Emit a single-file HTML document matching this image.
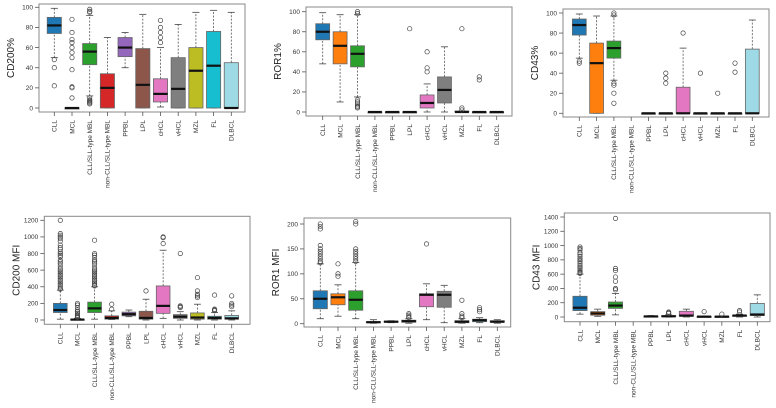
<!DOCTYPE html>
<html><head><meta charset="utf-8">
<style>
body{margin:0;background:#fff;width:776px;height:403px;overflow:hidden}
svg{font-family:"Liberation Sans",sans-serif}
</style></head>
<body>
<svg id="chart" width="776" height="403" viewBox="0 0 776 403" xmlns="http://www.w3.org/2000/svg"></svg>
<script>
const categories = ["CLL","MCL","CLL/SLL-type MBL","non-CLL/SLL-type MBL","PPBL","LPL","cHCL","vHCL","MZL","FL","DLBCL"];
const colors = ["#1f77b4","#ff7f0e","#2ca02c","#d62728","#9467bd","#8c564b","#e377c2","#7f7f7f","#bcbd22","#17becf","#9edae5"];

// stats: [lowWhisker, q1, median, q3, highWhisker]
const cd200PctStats = [[50,74,82,90,99],[0,0,0,0,0],[12,43,56,64,92],[0,0,20,34,70],[40,51,60,70,75],[0,0,23,59,93],[1,6,14,29,60],[0,0,19,50,83],[0,0,37,60,95],[0,0,42,76,97],[0,0,0,45,95]];
const cd200PctOut = [[48,40,22],[88,75,68,65,60,55,50,38,21,20,10],[98,96,95,10,8,7,6,5,4],[],[],[],[87,80,75,70,65],[],[],[],[]];
const ror1PctStats = [[48,72,80,88,99],[10,48,66,80,97],[15,45,58,66,97],[0,0,0,0,0],[0,0,0,0,0],[0,0,0,0,0],[0,4,9,17,28],[0,9,22,35,65],[0,0,0,1,1],[0,0,0,0,0],[0,0,0,0,0]];
const ror1PctOut = [[],[],[100,98,12,10,8,6,5,4],[],[],[83],[60,44,40],[],[83,4,2],[35,32],[]];
const cd43PctStats = [[55,78,88,94,99],[0,0,50,70,97],[33,55,65,72,97],null,[0,0,0,0,0],[0,0,0,0,0],[0,0,0,26,65],[0,0,0,0,0],[0,0,0,0,0],[0,0,0,0,0],[0,0,0,64,93]];
const cd43PctOut = [[52,50],[],[100,98,30,28,20,10],[],[],[40,35,30],[80],[40],[20],[50,41],[]];
const cd200MfiStats = [[10,90,120,200,360],[0,2,5,10,20],[10,90,140,215,400],[5,10,25,50,110],[40,50,70,95,120],[0,10,25,105,250],[20,80,170,410,840],[0,20,40,65,100],[0,10,30,85,190],[0,10,25,45,90],[0,10,20,55,110]];
const cd200MfiOut = [[1200,1040,1020,1000,980,950,900,870,850,820,800,780,760,720,700,680,650,620,600,580,560,540,520,500,480,460,440,420,400,380,370],[200,180,150,120,100,80,60,50,40,30],[960,800,780,750,720,700,680,650,620,600,580,560,540,520,500,480,460,440,420,410],[190,130],[],[350],[1000,990,920],[800,170,160,150],[510,350,310,290,270],[300,130,120,110],[290,200,180,160]];
const ror1MfiStats = [[10,30,50,66,120],[15,38,53,60,78],[10,27,48,66,123],[1,2,3,4,8],[2,3,4,5,6],[1,3,5,7,10],[8,34,58,60,80],[2,33,58,65,77],[1,2,4,6,10],[2,4,7,9,12],[1,3,4,6,8]];
const ror1MfiOut = [[200,195,190,157,150,145,140,135,130,125,122],[120,100,95],[205,200,150,145,140,135,130,125],[],[],[20,17,14,12],[160],[],[47,20,15,12],[32,28,24],[]];
const cd43MfiStats = [[40,90,130,290,600],[10,25,50,75,110],[30,120,160,210,330],null,[0,5,8,12,20],[0,5,10,20,30],[0,10,20,80,110],[0,3,5,8,15],[0,3,5,8,15],[0,10,20,25,40],[0,20,35,190,310]];
const cd43MfiOut = [[980,960,940,900,880,850,820,800,780,750,720,700,680,650,630,620,610],[],[1380,680,650,560,500,400,380],[],[],[70,60,50],[],[75],[40],[90,70],[]];

const ticksPct = [0,20,40,60,80,100];
const ticksCd200Mfi = [0,200,400,600,800,1000,1200];
const ticksRor1Mfi = [0,50,100,150,200];
const ticksCd43Mfi = [0,200,400,600,800,1000,1200,1400];

const panels = [
 {name:"cd200-pct",title:"CD200%",stats:cd200PctStats,out:cd200PctOut,ticks:ticksPct,fx:39,fy:4,fw:206,fh:108,vMax:100,yTop:7.3,yBot:108,c0:54.3,c1:231.3},
 {name:"ror1-pct",title:"ROR1%",stats:ror1PctStats,out:ror1PctOut,ticks:ticksPct,fx:306,fy:7,fw:206,fh:109,vMax:100,yTop:11.7,yBot:112,c0:322.7,c1:496.7},
 {name:"cd43-pct",title:"CD43%",stats:cd43PctStats,out:cd43PctOut,ticks:ticksPct,fx:563,fy:9,fw:206,fh:108,vMax:100,yTop:13,yBot:113.3,c0:579.3,c1:752.3},
 {name:"cd200-mfi",title:"CD200 MFI",stats:cd200MfiStats,out:cd200MfiOut,ticks:ticksCd200Mfi,fx:44.3,fy:216.3,fw:205.7,fh:108,vMax:1200,yTop:220.3,yBot:320,c0:60.3,c1:231.7},
 {name:"ror1-mfi",title:"ROR1 MFI",stats:ror1MfiStats,out:ror1MfiOut,ticks:ticksRor1Mfi,fx:304,fy:218,fw:206.7,fh:109,vMax:200,yTop:224,yBot:323.7,c0:320.3,c1:497.3},
 {name:"cd43-mfi",title:"CD43 MFI",stats:cd43MfiStats,out:cd43MfiOut,ticks:ticksCd43Mfi,fx:564.3,fy:213,fw:205.7,fh:108.7,vMax:1400,yTop:217,yBot:317,c0:580,c1:757.3}
];

const svg = document.getElementById('chart');
const NS = "http://www.w3.org/2000/svg";
function mk(tag, attrs, parent){
  const e = document.createElementNS(NS, tag);
  for (const k in attrs) e.setAttribute(k, attrs[k]);
  parent.appendChild(e);
  return e;
}

panels.forEach(p => {
  const g = mk('g', {}, svg);
  
  
  const y = v => p.yBot - (v / p.vMax) * (p.yBot - p.yTop);
  const n = categories.length;
  const x = i => p.c0 + i * (p.c1 - p.c0) / (n - 1);
  const step = (p.c1 - p.c0) / (n - 1);
  const bw = step * 0.8;

  const frame = mk('rect', {x:p.fx, y:p.fy, width:p.fw, height:p.fh, fill:'none', stroke:'#888', 'stroke-width':1}, g);
  
  

  // y ticks
  p.ticks.forEach(t => {
    const ty = y(t);
    const tl = mk('line', {x1:p.fx-4, x2:p.fx, y1:ty, y2:ty, stroke:'#555', 'stroke-width':0.8}, g);
    
    
    const tx = mk('text', {x:p.fx-6, y:ty+2.3, 'font-size':6.5, 'text-anchor':'end', fill:'#333'}, g);
    tx.textContent = t;
    
    
  });
  const midY = (p.fy + p.fy + p.fh) / 2;
  const yl = mk('text', {x:0, y:0, 'font-size':10, 'text-anchor':'middle', fill:'#222', transform:`translate(${p.fx-25},${midY}) rotate(-90)`}, g);
  yl.textContent = p.title;
  
  

  categories.forEach((c, i) => {
    const cx = x(i);
    const bot = p.fy + p.fh;
    const xt = mk('line', {x1:cx, x2:cx, y1:bot, y2:bot+4, stroke:'#555', 'stroke-width':0.8}, g);
    
    
    const lb = mk('text', {x:0, y:0, 'font-size':6.5, 'text-anchor':'end', fill:'#333', transform:`translate(${cx+2.3},${bot+8}) rotate(-90)`}, g);
    lb.textContent = c;
    
    

    const s = p.stats[i];
    if (s) {
      const bg = mk('g', {}, g);
      
      
      mk('line', {x1:cx, x2:cx, y1:y(s[0]), y2:y(s[1]), stroke:'#555', 'stroke-width':0.8, 'stroke-dasharray':'2,1.5'}, bg);
      mk('line', {x1:cx, x2:cx, y1:y(s[3]), y2:y(s[4]), stroke:'#555', 'stroke-width':0.8, 'stroke-dasharray':'2,1.5'}, bg);
      mk('line', {x1:cx-bw/4, x2:cx+bw/4, y1:y(s[0]), y2:y(s[0]), stroke:'#444', 'stroke-width':0.8}, bg);
      mk('line', {x1:cx-bw/4, x2:cx+bw/4, y1:y(s[4]), y2:y(s[4]), stroke:'#444', 'stroke-width':0.8}, bg);
      const h = Math.max(y(s[1]) - y(s[3]), 1);
      mk('rect', {x:cx-bw/2, y:y(s[3]), width:bw, height:h, fill:colors[i], stroke:'#666', 'stroke-width':0.8}, bg);
      mk('line', {x1:cx-bw/2, x2:cx+bw/2, y1:y(s[2]), y2:y(s[2]), stroke:'#111', 'stroke-width':2.2}, bg);
    }
    (p.out[i] || []).forEach(v => {
      const o = mk('circle', {cx:cx, cy:y(v), r:2.2, fill:'none', stroke:'#444', 'stroke-width':0.7}, g);
      
      
    });
  });
});
</script>
</body></html>
